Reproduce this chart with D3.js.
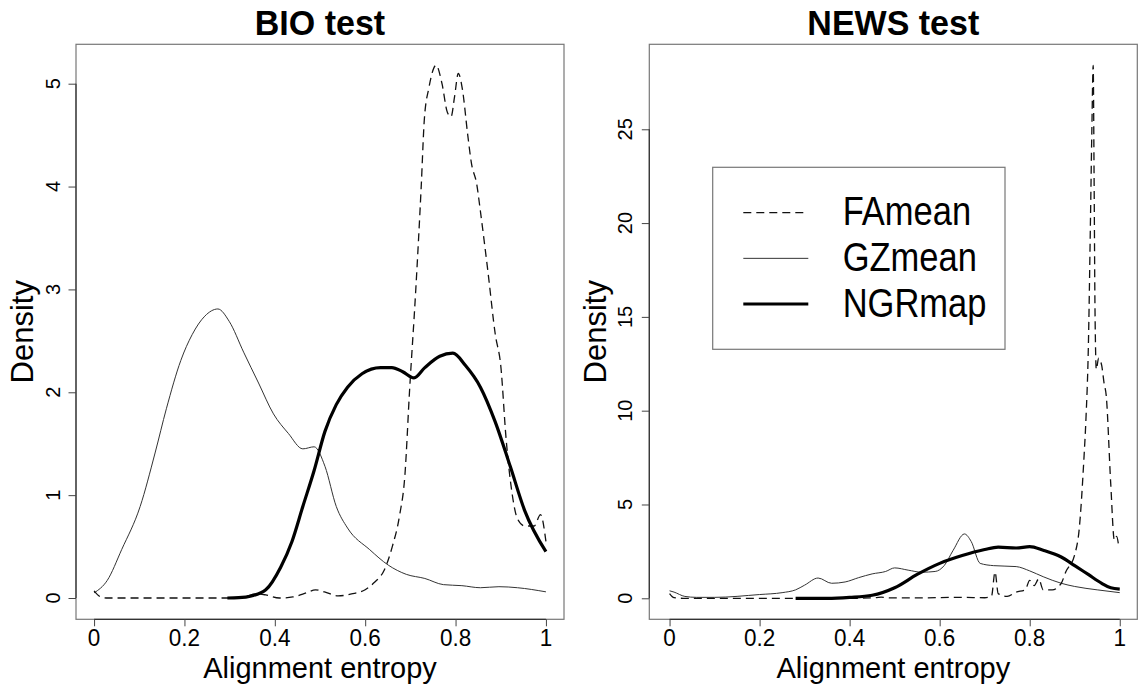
<!DOCTYPE html>
<html>
<head>
<meta charset="utf-8">
<script src="https://cdn.jsdelivr.net/npm/d3@7"></script>
<style>
  html, body { margin: 0; padding: 0; background: #fff; }
  svg { display: block; font-family: "Liberation Sans", Arial, Helvetica, sans-serif; }
</style>
</head>
<body>
<svg id="chart" width="1143" height="690"></svg>
<script>
// ---- data: kernel density estimates of alignment entropy ----
const seriesNames = ["FAmean", "GZmean", "NGRmap"];
const xTicks = [0, 0.2, 0.4, 0.6, 0.8, 1];
const xTickLabels = ["0", "0.2", "0.4", "0.6", "0.8", "1"];
const bioYTicks = [0, 1, 2, 3, 4, 5];
const newsYTicks = [0, 5, 10, 15, 20, 25];

const bioFAmean = [
  [0,0.07],[0.015,0.01],[0.03,0],[0.1,0],[0.2,0],[0.3,0],[0.33,0.01],[0.36,0.04],[0.38,0.03],
  [0.41,0],[0.44,0.01],[0.47,0.05],[0.49,0.08],[0.51,0.06],[0.54,0.02],[0.57,0.04],[0.6,0.08],
  [0.62,0.15],[0.642,0.27],[0.66,0.5],[0.676,0.8],[0.688,1.2],[0.698,2.0],[0.712,3.0],[0.724,4.0],
  [0.731,4.66],[0.741,4.96],[0.757,5.18],[0.77,5.0],[0.782,4.72],[0.79,4.68],[0.798,4.88],
  [0.806,5.1],[0.815,4.95],[0.827,4.5],[0.835,4.23],[0.847,4.02],[0.855,3.76],[0.872,3.16],
  [0.888,2.56],[0.9,2.26],[0.912,1.54],[0.925,1.02],[0.937,0.77],[0.953,0.7],[0.974,0.7],
  [0.988,0.81],[1.0,0.55]
];
const bioGZmean = [
  [0,0.05],[0.029,0.17],[0.061,0.47],[0.102,0.89],[0.135,1.41],[0.16,1.84],[0.192,2.31],
  [0.217,2.56],[0.245,2.74],[0.274,2.81],[0.299,2.69],[0.331,2.39],[0.364,2.09],[0.397,1.79],
  [0.43,1.6],[0.462,1.45],[0.487,1.47],[0.511,1.28],[0.536,0.89],[0.561,0.68],[0.61,0.47],
  [0.651,0.32],[0.691,0.23],[0.732,0.19],[0.773,0.13],[0.814,0.12],[0.855,0.1],[0.896,0.11],
  [0.937,0.1],[1.0,0.06]
];
const bioNGRmap = [
  [0.295,0],[0.32,0.003],[0.348,0.02],[0.38,0.08],[0.413,0.3],[0.438,0.55],[0.462,0.89],
  [0.487,1.24],[0.511,1.62],[0.536,1.88],[0.561,2.05],[0.593,2.18],[0.634,2.24],[0.659,2.24],
  [0.683,2.2],[0.708,2.14],[0.732,2.24],[0.765,2.35],[0.794,2.38],[0.822,2.26],[0.855,2.05],
  [0.888,1.71],[0.921,1.28],[0.953,0.85],[1.0,0.45]
];

const newsFAmean = [
  [0,0.25],[0.01,0.03],[0.03,0],[0.2,0],[0.4,0],[0.45,0.02],[0.47,0.06],[0.49,0.02],[0.55,0.02],
  [0.65,0.05],[0.7,0.03],[0.715,0.1],[0.723,1.4],[0.73,0.25],[0.75,0.1],[0.77,0.33],[0.79,0.45],
  [0.8,0.96],[0.81,0.68],[0.82,1.03],[0.83,0.45],[0.85,0.45],[0.87,0.8],[0.88,1.4],[0.9,2.33],
  [0.91,3.7],[0.92,7.26],[0.925,9.6],[0.93,13.1],[0.935,20.2],[0.938,24.9],[0.941,28.4],
  [0.943,22.5],[0.945,15.5],[0.948,12.2],[0.953,12.8],[0.96,12.4],[0.965,11.5],[0.97,10.8],
  [0.98,6.1],[0.988,3.1],[0.993,3.3],[0.997,2.9]
];
const newsGZmean = [
  [0,0.4],[0.01,0.33],[0.034,0.1],[0.06,0.05],[0.1,0.05],[0.2,0.2],[0.25,0.3],[0.28,0.45],
  [0.3,0.7],[0.33,1.08],[0.36,0.8],[0.39,0.87],[0.42,1.1],[0.45,1.3],[0.48,1.43],[0.5,1.62],
  [0.53,1.5],[0.56,1.39],[0.59,1.43],[0.61,1.74],[0.63,2.56],[0.655,3.43],[0.67,3.03],
  [0.69,1.86],[0.72,1.74],[0.77,1.69],[0.8,1.46],[0.83,1.15],[0.87,0.8],[0.9,0.63],
  [0.95,0.45],[1.0,0.3]
];
const newsNGRmap = [
  [0.28,0],[0.35,0],[0.4,0.05],[0.45,0.16],[0.5,0.56],[0.55,1.27],[0.6,1.86],[0.65,2.28],
  [0.7,2.6],[0.73,2.73],[0.77,2.68],[0.8,2.75],[0.83,2.56],[0.87,2.2],[0.9,1.74],[0.93,1.27],
  [0.96,0.8],[0.98,0.56],[1.0,0.49]
];

// ---- layout & styling ----
const seriesStyle = {
  FAmean: { width: 1.3, dash: "8,5", color: "#111" },
  GZmean: { width: 1, dash: null, color: "#333" },
  NGRmap: { width: 3.2, dash: null, color: "#000" }
};

const panels = [
  { title: "BIO test", box: { x0: 76, x1: 564, y0: 44.3, y1: 619.3 },
    xDomain: [-0.04, 1.04], yDomain: [-0.207, 5.383], yTicks: bioYTicks,
    series: { FAmean: bioFAmean, GZmean: bioGZmean, NGRmap: bioNGRmap },
    yLabelX: 33, yTickLabelX: 60, legend: false },
  { title: "NEWS test", box: { x0: 649.3, x1: 1137.3, y0: 44.3, y1: 619.3 },
    xDomain: [-0.045, 1.039], yDomain: [-1.12, 29.53], yTicks: newsYTicks,
    series: { FAmean: newsFAmean, GZmean: newsGZmean, NGRmap: newsNGRmap },
    yLabelX: 606, yTickLabelX: 632, legend: true }
];

const svg = d3.select("#chart");

// text helper that allows a slight vertical stretch around the baseline
function addText(g, str, x, y, opts) {
  const o = Object.assign({ size: 20, weight: "normal", anchor: "middle", rotate: 0, sy: 1 }, opts);
  let tr = `translate(${x},${y})`;
  if (o.rotate) tr += ` rotate(${o.rotate})`;
  if (o.sy !== 1) tr += ` scale(1,${o.sy})`;
  return g.append("text")
    .attr("transform", tr)
    .attr("text-anchor", o.anchor)
    .attr("font-size", o.size)
    .attr("font-weight", o.weight)
    .attr("fill", "#000")
    .text(str);
}

panels.forEach(p => {
  const g = svg.append("g");
  const x = d3.scaleLinear().domain(p.xDomain).range([p.box.x0, p.box.x1]);
  const y = d3.scaleLinear().domain(p.yDomain).range([p.box.y1, p.box.y0]);
  const cx = (p.box.x0 + p.box.x1) / 2;
  const cy = (p.box.y0 + p.box.y1) / 2;

  // plot frame
  g.append("rect")
    .attr("x", p.box.x0).attr("y", p.box.y0)
    .attr("width", p.box.x1 - p.box.x0).attr("height", p.box.y1 - p.box.y0)
    .attr("fill", "none").attr("stroke", "#777").attr("stroke-width", 1.2);

  // x axis
  const xAxis = d3.axisBottom(x).tickValues(xTicks).tickSize(7).tickFormat((d, i) => xTickLabels[i]);
  const gx = g.append("g").attr("transform", `translate(0,${p.box.y1})`).call(xAxis);
  gx.select(".domain").attr("d", `M${x(xTicks[0])},0H${x(xTicks[xTicks.length - 1])}`)
    .attr("stroke", "#333").attr("stroke-width", 1.2);
  gx.selectAll(".tick line").attr("stroke", "#444");
  gx.selectAll(".tick text").remove();
  xTicks.forEach((t, i) => addText(g, xTickLabels[i], x(t), 645.5, { size: 22.5, sy: 1.03 }));

  // y axis
  const yAxis = d3.axisLeft(y).tickValues(p.yTicks).tickSize(7.5);
  const gy = g.append("g").attr("transform", `translate(${p.box.x0},0)`).call(yAxis);
  gy.select(".domain").attr("d", `M0,${y(p.yTicks[0])}V${y(p.yTicks[p.yTicks.length - 1])}`)
    .attr("stroke", "#333").attr("stroke-width", 1.2);
  gy.selectAll(".tick line").attr("stroke", "#444");
  gy.selectAll(".tick text").remove();
  p.yTicks.forEach(t => addText(g, String(t), p.yTickLabelX, y(t), { size: 20, rotate: -90 }));

  // titles
  addText(g, p.title, cx, 35, { size: 34, weight: "bold", sy: 1.05 });
  addText(g, "Alignment entropy", cx, 677.5, { size: 29, sy: 1.04 });
  addText(g, "Density", p.yLabelX, cy, { size: 31, rotate: -90 });

  // density curves
  const line = d3.line().x(d => x(d[0])).y(d => y(d[1])).curve(d3.curveMonotoneX);
  ["GZmean", "FAmean", "NGRmap"].forEach(name => {
    const s = seriesStyle[name];
    g.append("path")
      .datum(p.series[name])
      .attr("d", line)
      .attr("fill", "none")
      .attr("stroke", s.color)
      .attr("stroke-width", s.width)
      .attr("stroke-dasharray", s.dash)
      .attr("stroke-linejoin", "round");
  });

  // legend
  if (p.legend) {
    const lg = g.append("g");
    lg.append("rect")
      .attr("x", 712.7).attr("y", 167.3).attr("width", 292.3).attr("height", 182)
      .attr("fill", "#fff").attr("stroke", "#777").attr("stroke-width", 1.2);
    const rowY = d3.scalePoint().domain(seriesNames).range([212.7, 304]);
    seriesNames.forEach(name => {
      const s = seriesStyle[name];
      lg.append("line")
        .attr("x1", 743.3).attr("x2", 808.3)
        .attr("y1", rowY(name)).attr("y2", rowY(name))
        .attr("stroke", s.color).attr("stroke-width", s.width)
        .attr("stroke-dasharray", s.dash);
      addText(lg, name, 842.7, rowY(name) + 12.5, { size: 34.5, anchor: "start", sy: 1.18 });
    });
  }
});
</script>
</body>
</html>
